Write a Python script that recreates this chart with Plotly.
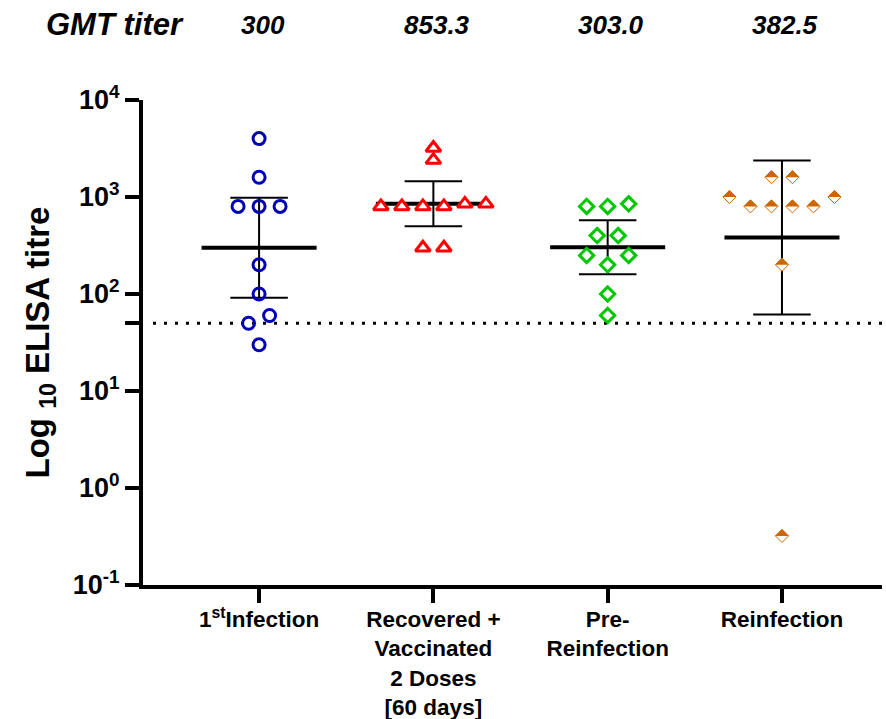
import numpy as np
import plotly.graph_objects as go

# ---- data -------------------------------------------------------------
groups = [
    "1<sup>st</sup>Infection",
    "Recovered +<br>Vaccinated<br>2 Doses<br>[60 days]",
    "Pre-<br>Reinfection",
    "Reinfection",
]
first_infection = [4000, 1600, 800, 800, 800, 200, 100, 60, 50, 30]
recovered_vaccinated = [3200, 2400, 800, 850, 800, 850, 800, 800, 300, 300]
pre_reinfection = [850, 800, 800, 400, 400, 250, 250, 200, 100, 60]
reinfection = [1600, 1600, 1000, 1000, 800, 800, 800, 800, 200, 0.32]

gmt_values = [300, 853.3, 303.0, 382.5]
gmt_labels = ["300", "853.3", "303.0", "382.5"]
cutoff = 50

ytick_vals = [0.1, 1, 10, 100, 1000, 10000]
ytick_text = ["10<sup>-1</sup>", "10<sup>0</sup>", "10<sup>1</sup>",
              "10<sup>2</sup>", "10<sup>3</sup>", "10<sup>4</sup>"]

series = [first_infection, recovered_vaccinated, pre_reinfection, reinfection]

# ---- geometry helpers ---------------------------------------------------
X_RANGE = [-0.666, 3.574]
Y_RANGE = [-1, 4]
PLOT_W, PLOT_H = 739, 485
PX_PER_UNIT = PLOT_W / (X_RANGE[1] - X_RANGE[0])
PX_PER_DECADE = PLOT_H / (Y_RANGE[1] - Y_RANGE[0])
SLOT = 21 / PX_PER_UNIT          # horizontal spacing between neighbouring dots
ROW_TOL = 0.04                   # decades: values treated as one row
LINK_TOL = 11 / PX_PER_DECADE    # decades: rows close enough to collide
T_975_DF9 = 2.262                # two-sided 95% t quantile, 9 d.f.


def swarm_offsets(values):
    """Symmetric dot-plot spreading of points that would overlap."""
    logs = np.log10(values)
    order = np.argsort(logs, kind="stable")
    rows = []
    for i in order:
        if rows and logs[i] - logs[rows[-1][0]] < ROW_TOL:
            rows[-1].append(i)
        else:
            rows.append([i])
    clusters = []
    for row in rows:
        if clusters and logs[row[0]] - logs[clusters[-1][-1][-1]] < LINK_TOL:
            clusters[-1].append(row)
        else:
            clusters.append([row])
    offsets = np.zeros(len(values))
    for cl in clusters:
        n = sum(len(r) for r in cl)
        slots = sorted([k - (n - 1) / 2 for k in range(n)], key=lambda s: (abs(s), s))
        if n % 2:
            ordered = sorted(cl, key=lambda r: (len(r) % 2 == 0, -len(r)))
        else:
            ordered = sorted(cl, key=lambda r: -len(r))
        pos = 0
        for r in ordered:
            taken = sorted(slots[pos:pos + len(r)])
            pos += len(r)
            for idx, s in zip(r, taken):
                offsets[idx] = s * SLOT
    return offsets


def ci95(values, center):
    logs = np.log10(values)
    half = T_975_DF9 * logs.std(ddof=1) / np.sqrt(len(values))
    return center / 10 ** half, center * 10 ** half


FONT = "Liberation Sans"
fig = go.Figure()

# threshold line
fig.add_trace(go.Scatter(
    x=[X_RANGE[0] + 10 / PX_PER_UNIT, X_RANGE[1]], y=[cutoff, cutoff], mode="lines",
    line=dict(color="black", width=3, dash="3px,8px"),
    hoverinfo="skip", showlegend=False))

# geometric mean with 95% CI
MEAN_HALF = 0.33
CAP_HALF = 0.165
for i, (vals, g) in enumerate(zip(series, gmt_values)):
    lo, hi = ci95(vals, g)
    fig.add_trace(go.Scatter(
        x=[i, i, None, i - CAP_HALF, i + CAP_HALF, None, i - CAP_HALF, i + CAP_HALF],
        y=[lo, hi, None, hi, hi, None, lo, lo],
        mode="lines", line=dict(color="black", width=2),
        hoverinfo="skip", showlegend=False))
    fig.add_trace(go.Scatter(
        x=[i - MEAN_HALF, i + MEAN_HALF], y=[g, g],
        mode="lines", line=dict(color="black", width=4),
        hoverinfo="skip", showlegend=False))

ORANGE = "#CC6600"
styles = [
    dict(symbol="circle-open", size=12, color="#0000B4", line=dict(color="#0000B4", width=3)),
    dict(symbol="triangle-up", size=13, color="white", line=dict(color="#FF0000", width=3)),
    dict(symbol="diamond", size=11, color="white", line=dict(color="#00C800", width=3)),
    dict(symbol="diamond", size=10, color="white", line=dict(color=ORANGE, width=1)),
]

shapes = []
for i, (vals, st) in enumerate(zip(series, styles)):
    xs = i + swarm_offsets(vals)
    fig.add_trace(go.Scatter(
        x=xs, y=vals, mode="markers", marker=st,
        cliponaxis=False, showlegend=False))
    if i == 3:
        # upper half of each diamond is filled
        d = 0.65 * st["size"] + 0.5
        for x, v in zip(xs, vals):
            shapes.append(dict(
                type="path", xref="x", yref="y",
                xsizemode="pixel", ysizemode="pixel",
                xanchor=x, yanchor=v,
                path=f"M {-d} 0 L 0 {d} L {d} 0 Z",
                fillcolor=ORANGE, line=dict(width=0)))

annotations = [dict(
    text="<i>GMT titer</i>", xref="paper", yref="paper",
    x=-0.038, y=1.155, xanchor="center", yanchor="middle", showarrow=False,
    font=dict(family=FONT, size=31, color="black", weight="bold"))]
for i, lab in enumerate(gmt_labels):
    annotations.append(dict(
        text=f"<i>{lab}</i>", xref="x", yref="paper",
        x=i + 0.02, y=1.155, xanchor="center", yanchor="middle", showarrow=False,
        font=dict(family=FONT, size=26, color="black", weight="bold")))

fig.update_layout(
    width=886, height=719,
    margin=dict(l=143, r=4, t=100, b=134, autoexpand=False),
    paper_bgcolor="white", plot_bgcolor="white",
    font=dict(family=FONT, color="black"),
    shapes=shapes, annotations=annotations,
    xaxis=dict(
        range=X_RANGE, tickmode="array", tickvals=[0, 1, 2, 3], ticktext=groups,
        ticks="outside", ticklen=14, tickwidth=4, tickcolor="black",
        showline=True, linewidth=4, linecolor="black",
        showgrid=False, zeroline=False, automargin=False,
        ticklabelstandoff=-3,
        tickfont=dict(family=FONT, size=22.5, color="black", weight="bold")),
    yaxis=dict(
        type="log", range=Y_RANGE,
        tickmode="array", tickvals=ytick_vals + [cutoff], ticktext=ytick_text + [""],
        ticks="outside", ticklen=14, tickwidth=4, tickcolor="black",
        showline=True, linewidth=4, linecolor="black",
        showgrid=False, zeroline=False, automargin=False,
        tickfont=dict(family=FONT, size=27, color="black", weight="bold"),
        title=dict(text="Log <sub>10</sub> ELISA titre", standoff=14,
                   font=dict(family=FONT, size=33, color="black", weight="bold"))),
)

fig.write_html("out.html")
